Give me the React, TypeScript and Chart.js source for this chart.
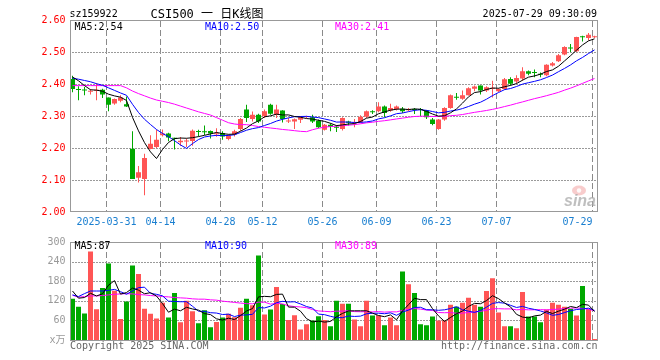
import React, { useEffect, useRef } from 'react';
import { Chart, registerables } from 'chart.js';

Chart.register(...registerables);

// ---------------- data ----------------
const dates = [
  '2025-03-21', '2025-03-24', '2025-03-25', '2025-03-26', '2025-03-27', '2025-03-28', '2025-03-31',
  '2025-04-01', '2025-04-02', '2025-04-03', '2025-04-07', '2025-04-08', '2025-04-09', '2025-04-10', '2025-04-11',
  '2025-04-14', '2025-04-15', '2025-04-16', '2025-04-17', '2025-04-18', '2025-04-21', '2025-04-22', '2025-04-23',
  '2025-04-24', '2025-04-25', '2025-04-28', '2025-04-29', '2025-04-30',
  '2025-05-06', '2025-05-07', '2025-05-08', '2025-05-09', '2025-05-12', '2025-05-13', '2025-05-14', '2025-05-15',
  '2025-05-16', '2025-05-19', '2025-05-20', '2025-05-21', '2025-05-22', '2025-05-23', '2025-05-26', '2025-05-27',
  '2025-05-28', '2025-05-29', '2025-05-30',
  '2025-06-03', '2025-06-04', '2025-06-05', '2025-06-06', '2025-06-09', '2025-06-10', '2025-06-11', '2025-06-12',
  '2025-06-13', '2025-06-16', '2025-06-17', '2025-06-18', '2025-06-19', '2025-06-20', '2025-06-23', '2025-06-24',
  '2025-06-25', '2025-06-26', '2025-06-27', '2025-06-30',
  '2025-07-01', '2025-07-02', '2025-07-03', '2025-07-04', '2025-07-07', '2025-07-08', '2025-07-09', '2025-07-10',
  '2025-07-11', '2025-07-14', '2025-07-15', '2025-07-16', '2025-07-17', '2025-07-18', '2025-07-21', '2025-07-22',
  '2025-07-23', '2025-07-24', '2025-07-25', '2025-07-28', '2025-07-29',
];

const opens = [
  2.416, 2.383, 2.382, 2.376, 2.379, 2.382, 2.358, 2.339, 2.348, 2.337,
  2.198, 2.107, 2.103, 2.197, 2.203, 2.240, 2.245, 2.230, 2.218, 2.220,
  2.222, 2.252, 2.252, 2.253, 2.243, 2.247, 2.228, 2.242, 2.259, 2.320,
  2.291, 2.304, 2.299, 2.335, 2.304, 2.317, 2.283, 2.283, 2.288, 2.297,
  2.296, 2.285, 2.257, 2.273, 2.264, 2.259, 2.283, 2.277, 2.280, 2.298,
  2.314, 2.315, 2.330, 2.317, 2.322, 2.323, 2.318, 2.321, 2.321, 2.317,
  2.289, 2.259, 2.289, 2.325, 2.359, 2.354, 2.365, 2.385, 2.395, 2.380,
  2.385, 2.377, 2.384, 2.416, 2.408, 2.417, 2.440, 2.435, 2.430, 2.427,
  2.458, 2.471, 2.492, 2.513, 2.502, 2.548, 2.544, 2.546,
];

const highs = [
  2.426, 2.393, 2.391, 2.384, 2.403, 2.385, 2.358, 2.355, 2.365, 2.361,
  2.252, 2.144, 2.182, 2.240, 2.257, 2.258, 2.248, 2.232, 2.234, 2.230,
  2.258, 2.257, 2.270, 2.255, 2.262, 2.252, 2.242, 2.257, 2.294, 2.335,
  2.314, 2.307, 2.320, 2.338, 2.335, 2.318, 2.294, 2.292, 2.300, 2.301,
  2.304, 2.289, 2.275, 2.277, 2.272, 2.296, 2.285, 2.291, 2.302, 2.317,
  2.318, 2.343, 2.333, 2.338, 2.333, 2.328, 2.325, 2.325, 2.325, 2.319,
  2.294, 2.291, 2.327, 2.367, 2.372, 2.380, 2.390, 2.395, 2.395, 2.393,
  2.410, 2.387, 2.419, 2.421, 2.427, 2.452, 2.442, 2.445, 2.436, 2.462,
  2.469, 2.494, 2.518, 2.525, 2.548, 2.551, 2.559, 2.551,
];

const lows = [
  2.374, 2.349, 2.365, 2.367, 2.349, 2.356, 2.315, 2.335, 2.343, 2.328,
  2.103, 2.092, 2.052, 2.196, 2.200, 2.236, 2.221, 2.195, 2.207, 2.203,
  2.207, 2.236, 2.241, 2.230, 2.235, 2.226, 2.224, 2.236, 2.254, 2.281,
  2.283, 2.278, 2.294, 2.304, 2.294, 2.280, 2.278, 2.259, 2.278, 2.293,
  2.278, 2.262, 2.255, 2.252, 2.250, 2.255, 2.270, 2.265, 2.277, 2.294,
  2.306, 2.312, 2.296, 2.313, 2.317, 2.309, 2.315, 2.306, 2.300, 2.291,
  2.271, 2.257, 2.285, 2.323, 2.351, 2.351, 2.364, 2.377, 2.367, 2.375,
  2.358, 2.375, 2.382, 2.395, 2.401, 2.410, 2.427, 2.421, 2.421, 2.424,
  2.455, 2.469, 2.490, 2.500, 2.500, 2.533, 2.536, 2.544,
];

const closes = [
  2.384, 2.381, 2.380, 2.378, 2.381, 2.367, 2.335, 2.353, 2.358, 2.330,
  2.103, 2.124, 2.169, 2.213, 2.226, 2.245, 2.233, 2.229, 2.223, 2.222,
  2.254, 2.250, 2.249, 2.245, 2.245, 2.236, 2.239, 2.252, 2.291, 2.294,
  2.304, 2.283, 2.315, 2.307, 2.320, 2.291, 2.284, 2.290, 2.296, 2.299,
  2.283, 2.265, 2.273, 2.266, 2.263, 2.294, 2.279, 2.280, 2.298, 2.315,
  2.312, 2.330, 2.309, 2.325, 2.330, 2.315, 2.322, 2.319, 2.319, 2.296,
  2.275, 2.289, 2.325, 2.365, 2.357, 2.365, 2.387, 2.392, 2.380, 2.390,
  2.388, 2.384, 2.415, 2.401, 2.419, 2.440, 2.432, 2.434, 2.429, 2.460,
  2.465, 2.490, 2.516, 2.511, 2.547, 2.546, 2.554, 2.548,
];

// volume in 万手
const volumes = [
  126, 102, 81, 271, 94, 159, 234, 151, 64, 118,
  228, 202, 96, 80, 66, 114, 69, 144, 54, 120,
  88, 51, 91, 39, 55, 69, 80, 70, 99, 126,
  106, 259, 78, 93, 162, 110, 61, 76, 32, 48,
  60, 73, 61, 42, 120, 111, 111, 63, 42, 120,
  75, 75, 45, 69, 45, 210, 171, 144, 48, 45,
  72, 60, 60, 108, 102, 114, 129, 108, 102, 150,
  189, 84, 42, 42, 36, 147, 72, 72, 54, 93,
  114, 108, 102, 96, 75, 165, 96, 3,
];

// moving-average values before a full window is visible
const priceMa5Head = [2.422, 2.410, 2.395, 2.382];
const priceMa10Head = [2.418, 2.415, 2.411, 2.407, 2.401, 2.396, 2.388, 2.380, 2.372];
const priceMa30Head = [
  2.395, 2.395, 2.395, 2.395, 2.395, 2.395, 2.395, 2.395, 2.395, 2.388,
  2.378, 2.370, 2.363, 2.356, 2.350, 2.346, 2.342, 2.337, 2.331, 2.325,
  2.319, 2.313, 2.308, 2.303, 2.295, 2.287, 2.279, 2.275, 2.273,
];
const volMa5Head = [150, 128, 130, 143];
const volMa10Head = [138, 133, 142, 150, 150, 150, 152, 155, 148];
const volMa30Head = [
  137, 131, 133, 135, 135, 136, 138, 140, 141, 142,
  141, 139, 138, 136, 135, 133, 132, 130, 129, 128,
  126, 125, 125, 123, 122, 119, 117, 115, 113,
];

const xTickDates = ['2025-03-31', '2025-04-14', '2025-04-28', '2025-05-12', '2025-05-26', '2025-06-09', '2025-06-23', '2025-07-07', '2025-07-29'];
const xTickLabels = ['2025-03-31', '04-14', '04-28', '05-12', '05-26', '06-09', '06-23', '07-07', '07-29'];
const priceTickValues = [2.0, 2.1, 2.2, 2.3, 2.4, 2.5, 2.6];
const volumeTickValues = [0, 60, 120, 180, 240, 300];
const volumeTickLabels = ['x万', '60', '120', '180', '240', '300'];
const priceLegend = ['MA5:2.54', 'MA10:2.50', 'MA30:2.41'];
const volumeLegend = ['MA5:87', 'MA10:90', 'MA30:89'];
const headerCode = 'sz159922';
const headerTitle = 'CSI500 一 日K线图';
const headerTime = '2025-07-29 09:30:09';
const footerLeft = 'Copyright 2025 SINA.COM';
const footerRight = 'http://finance.sina.com.cn';
const watermark = 'sina';

// ---------------- styles ----------------
const UP = '#ff5555';
const DOWN = '#00a800';
const MA_COLORS = ['#000000', '#0000ff', '#ff00ff'];
const LEGEND_X = [74.5, 205, 335];
const FRAME = '#999999';
const GRID_H = '#9a9a9a';
const GRID_V = '#8a8a8a';
const MONO = "'DejaVu Sans Mono', 'Liberation Mono', 'Noto Sans CJK SC', monospace";

const markIdx = xTickDates.map((d) => dates.indexOf(d));
const candleColors = dates.map((_, i) => (closes[i] >= opens[i] ? UP : DOWN));

function sma(src: number[], n: number, head: number[]) {
  return src.map((_, i) => {
    if (i < head.length) return head[i];
    let s = 0;
    for (let k = i - n + 1; k <= i; k++) s += src[k];
    return s / n;
  });
}

function xAxis() {
  return {
    type: 'category',
    offset: true,
    grid: { display: false },
    border: { display: false },
    ticks: { display: false, autoSkip: false },
    afterFit: (s: any) => {
      s.height = 20;
    },
  };
}

// grid drawn behind everything already on the canvas (destination-over)
function drawGridBehind(chart: any, yValues: number[]) {
  const { ctx, chartArea: a, scales } = chart;
  const left = Math.round(a.left) + 1;
  const right = Math.round(a.right) - 1;
  const top = Math.floor(a.top) + 1;
  const bottom = Math.round(a.bottom);
  ctx.save();
  ctx.globalCompositeOperation = 'destination-over';
  ctx.globalAlpha = 1;
  // dotted horizontal lines: 2 on, 1 off
  ctx.fillStyle = GRID_H;
  yValues.slice(1, -1).forEach((v) => {
    const y = Math.round(scales.y.getPixelForValue(v));
    for (let x = left + 1; x < right; x += 3) ctx.fillRect(x, y, 2, 1);
  });
  // dashed vertical lines: 6 on, 3 off
  ctx.fillStyle = GRID_V;
  const step = (a.right - a.left) / dates.length;
  markIdx.forEach((idx) => {
    const x = Math.floor(scales.x.getPixelForValue(idx) - step / 2 + 0.5);
    for (let y = top; y < bottom; y += 9) ctx.fillRect(x, y, 1, Math.min(6, bottom - y));
  });
  ctx.restore();
}

function drawFrame(chart: any, bottomAdj: number) {
  const { ctx, chartArea: a } = chart;
  const l = Math.round(a.left) + 0.5;
  const t = Math.floor(a.top) + 0.5;
  const r = Math.round(a.right) - 0.5;
  const b = Math.round(a.bottom) + bottomAdj;
  ctx.save();
  ctx.globalCompositeOperation = 'source-over';
  ctx.setLineDash([]);
  ctx.strokeStyle = FRAME;
  ctx.lineWidth = 1;
  ctx.strokeRect(l, t, r - l, b - t);
  ctx.restore();
}

function drawLegend(ctx: any, items: string[], y: number) {
  ctx.font = `10px ${MONO}`;
  ctx.textAlign = 'left';
  ctx.textBaseline = 'alphabetic';
  items.forEach((s, k) => {
    ctx.fillStyle = MA_COLORS[k];
    ctx.fillText(s, LEGEND_X[k], y);
  });
}

const priceDecor = {
  id: 'priceDecor',
  afterDraw(chart: any) {
    const { ctx, chartArea: a, scales } = chart;
    drawGridBehind(chart, priceTickValues);
    drawFrame(chart, -0.5);
    ctx.save();
    // x labels
    const step = (a.right - a.left) / dates.length;
    ctx.font = `10px ${MONO}`;
    ctx.fillStyle = '#1a7fd0';
    ctx.textBaseline = 'alphabetic';
    markIdx.forEach((idx, k) => {
      const gx = Math.floor(scales.x.getPixelForValue(idx) - step / 2 + 0.5) + 0.5;
      ctx.textAlign = k === markIdx.length - 1 ? 'right' : 'center';
      ctx.fillText(xTickLabels[k], gx, 225);
    });
    // legend
    drawLegend(ctx, priceLegend, 30);
    // header
    ctx.fillStyle = '#000';
    ctx.textAlign = 'left';
    ctx.font = `10px ${MONO}`;
    ctx.fillText(headerCode, 69.5, 17);
    ctx.font = `12px ${MONO}`;
    ctx.fillText(headerTitle, 150.5, 17.5);
    ctx.font = `10px ${MONO}`;
    ctx.textAlign = 'right';
    ctx.fillText(headerTime, 597, 17);
    // watermark
    ctx.fillStyle = 'rgba(235,110,110,0.35)';
    ctx.beginPath();
    ctx.ellipse(579, 190.5, 7, 5, 0, 0, Math.PI * 2);
    ctx.fill();
    ctx.fillStyle = 'rgba(255,255,255,0.9)';
    ctx.beginPath();
    ctx.arc(579, 190.5, 2.2, 0, Math.PI * 2);
    ctx.fill();
    ctx.font = "italic bold 16px 'Liberation Sans', sans-serif";
    ctx.fillStyle = 'rgba(170,170,170,0.75)';
    ctx.textAlign = 'right';
    ctx.fillText(watermark, 596, 206);
    ctx.restore();
  },
};

const volumeDecor = {
  id: 'volumeDecor',
  afterDraw(chart: any) {
    const { ctx } = chart;
    drawGridBehind(chart, volumeTickValues);
    drawFrame(chart, 0.5);
    ctx.save();
    drawLegend(ctx, volumeLegend, 17);
    ctx.font = `10px ${MONO}`;
    ctx.fillStyle = '#666666';
    ctx.textBaseline = 'alphabetic';
    ctx.textAlign = 'left';
    ctx.fillText(footerLeft, 70, 117);
    ctx.textAlign = 'right';
    ctx.fillText(footerRight, 597.5, 117);
    ctx.restore();
  },
};

function lineDs(data: number[], color: string) {
  return {
    type: 'line',
    data,
    borderColor: color,
    backgroundColor: color,
    borderWidth: 1,
    pointRadius: 0,
    tension: 0,
    fill: false,
    order: 0,
  };
}

export default function App() {
  const priceRef = useRef<HTMLCanvasElement | null>(null);
  const volRef = useRef<HTMLCanvasElement | null>(null);

  useEffect(() => {
    const common = {
      responsive: false,
      animation: false,
      devicePixelRatio: 1,
      events: [],
      plugins: { legend: { display: false }, tooltip: { enabled: false } },
    };

    const priceChart = new Chart(priceRef.current as HTMLCanvasElement, {
      type: 'bar',
      data: {
        labels: dates,
        datasets: [
          lineDs(sma(closes, 5, priceMa5Head), MA_COLORS[0]),
          lineDs(sma(closes, 10, priceMa10Head), MA_COLORS[1]),
          lineDs(sma(closes, 30, priceMa30Head), MA_COLORS[2]),
          {
            type: 'bar',
            data: opens.map((o, i) => [o, closes[i]]),
            backgroundColor: candleColors,
            barThickness: 5,
            grouped: false,
            minBarLength: 1,
            inflateAmount: 0,
            borderWidth: 0,
            order: 1,
          },
          {
            type: 'bar',
            data: lows.map((l, i) => [l, highs[i]]),
            backgroundColor: candleColors,
            barThickness: 1,
            grouped: false,
            inflateAmount: 0,
            borderWidth: 0,
            order: 2,
          },
        ],
      } as any,
      options: {
        ...common,
        layout: { padding: { left: 0, right: 62.5, top: 20, bottom: 0 } },
        scales: {
          x: xAxis(),
          y: {
            type: 'linear',
            min: 2.0,
            max: 2.6,
            afterBuildTicks: (s: any) => {
              s.ticks = priceTickValues.map((v) => ({ value: v }));
            },
            afterFit: (s: any) => {
              s.width = 69.5;
            },
            ticks: {
              color: '#ff0000',
              font: { family: MONO, size: 10 },
              padding: 4,
              callback: (v: any) => Number(v).toFixed(2),
            },
            grid: { display: false, drawTicks: false },
            border: { display: false },
          },
        },
      } as any,
      plugins: [priceDecor],
    });

    const volChart = new Chart(volRef.current as HTMLCanvasElement, {
      type: 'bar',
      data: {
        labels: dates,
        datasets: [
          lineDs(sma(volumes, 5, volMa5Head), MA_COLORS[0]),
          lineDs(sma(volumes, 10, volMa10Head), MA_COLORS[1]),
          lineDs(sma(volumes, 30, volMa30Head), MA_COLORS[2]),
          {
            type: 'bar',
            data: volumes,
            backgroundColor: candleColors,
            barThickness: 5,
            grouped: false,
            inflateAmount: 0,
            borderWidth: 0,
            order: 1,
          },
        ],
      } as any,
      options: {
        ...common,
        layout: { padding: { left: 0, right: 62.5, top: 8.5, bottom: 0 } },
        scales: {
          x: xAxis(),
          y: {
            type: 'linear',
            min: 0,
            max: 300,
            afterBuildTicks: (s: any) => {
              s.ticks = volumeTickValues.map((v) => ({ value: v }));
            },
            afterFit: (s: any) => {
              s.width = 69.5;
            },
            ticks: {
              color: '#999999',
              font: { family: MONO, size: 10 },
              padding: 4,
              callback: (v: any) => {
                const k = volumeTickValues.indexOf(Number(v));
                return k >= 0 ? volumeTickLabels[k] : String(v);
              },
            },
            grid: { display: false, drawTicks: false },
            border: { display: false },
          },
        },
      } as any,
      plugins: [volumeDecor],
    });

    return () => {
      priceChart.destroy();
      volChart.destroy();
    };
  }, []);

  return (
    <div style={{ position: 'fixed', left: 0, top: 0, width: 660, height: 360, background: '#fff' }}>
      <canvas ref={priceRef} width={660} height={232} style={{ position: 'absolute', left: 0, top: 0 }} />
      <canvas ref={volRef} width={660} height={128} style={{ position: 'absolute', left: 0, top: 232 }} />
    </div>
  );
}
